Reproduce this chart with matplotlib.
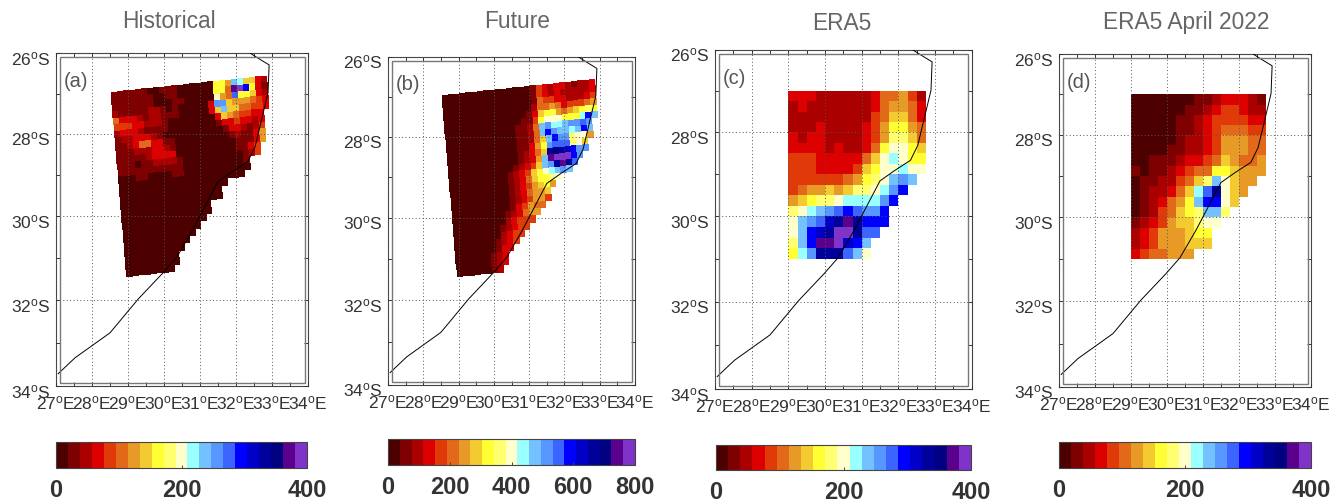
import numpy as np
import matplotlib
matplotlib.use("Agg")
import matplotlib.pyplot as plt
from matplotlib.colors import ListedColormap
from matplotlib.patches import Rectangle
from matplotlib.transforms import ScaledTranslation

plt.rcParams['font.family'] = ['Liberation Sans', 'DejaVu Sans']
plt.rcParams['mathtext.fontset'] = 'custom'
plt.rcParams['mathtext.rm'] = 'Liberation Sans'
plt.rcParams['mathtext.default'] = 'regular'

W, H = 1331, 501

colors = ['#4d0000', '#7f0000', '#ab0000', '#dc0000', '#e03a08', '#e2691a', '#e89a26',
          '#f3cb30', '#ffff33', '#ffff70', '#ffffcc', '#99ffff', '#73c2ff', '#5797ff',
          '#3c64ff', '#0000ff', '#0000c8', '#00009a', '#000080', '#5a008c', '#8033c8']

# values are colour classes (0-20), rows run north to south
hist = [
    [1,1,1,1,1,1,0,0,1,1,1,0,0,0,0,0,0,8,8,6,12,11,7,7,3,2],
    [1,1,1,1,1,1,1,0,0,1,1,0,0,0,0,0,0,8,8,5,19,20,15,8,3,1],
    [1,1,1,1,1,1,1,0,0,0,1,1,0,0,0,0,0,10,6,5,14,8,8,7,3,2],
    [2,1,1,1,1,1,2,2,1,0,1,0,0,0,0,0,3,13,13,7,6,6,6,5,4,3],
    [5,3,3,3,2,1,2,2,1,1,1,0,0,0,0,0,3,7,12,7,7,5,5,4,4,3],
    [4,4,4,3,3,2,2,2,1,0,0,0,0,0,0,0,0,3,7,6,5,4,4,3,3],
    [2,3,3,3,2,1,1,1,1,0,0,0,0,0,0,0,0,1,3,3,4,3,3,2,3],
    [1,2,2,3,3,3,2,1,0,0,0,0,0,0,0,0,0,0,1,3,3,2,1,2,4],
    [1,1,2,3,5,5,3,3,1,1,0,0,0,0,0,0,0,0,0,1,2,1,1,3,6],
    [1,1,1,2,2,2,3,3,2,1,0,0,0,0,0,0,0,0,0,0,1,1,1,3,6],
    [1,1,1,1,1,2,3,3,3,3,0,0,0,0,0,0,0,0,0,0,1,1,3,4],
    [1,1,1,0,1,1,2,2,2,2,1,0,0,0,0,0,0,0,0,0,0,1,2,4],
    [1,1,1,1,1,1,1,1,1,1,1,0,0,0,0,0,0,0,0,0,0,1],
    [0,0,0,1,1,0,0,0,0,1,1,0,0,0,0,0,0,0,0,0,0,0],
    [0,0,0,0,0,0,0,0,0,0,0,0,0,0,0,0,0,0,0,0,0],
    [0,0,0,0,0,0,0,0,0,0,0,0,0,0,0,0,0,0],
    [0,0,0,0,0,0,0,0,0,0,0,0,0,0,0,0,0],
    [0,0,0,0,0,0,0,0,0,0,0,0,0,0,0,0,0],
    [0,0,0,0,0,0,0,0,0,0,0,0,0,0,0],
    [0,0,0,0,0,0,0,0,0,0,0,0,0,0,0],
    [0,0,0,0,0,0,0,0,0,0,0,0,0,0],
    [0,0,0,0,0,0,0,0,0,0,0,0,0],
    [0,0,0,0,0,0,0,0,0,0,0,0],
    [0,0,0,0,0,0,0,0,0,0,0],
    [0,0,0,0,0,0,0,0,0,0],
    [0,0,0,0,0,0,0,0,0],
    [0,0,0,0,0,0,0,0,0],
    [0,0,0,0,0,0,0,0],
]

future = [
    [0,0,0,0,0,0,0,0,0,0,0,0,0,0,0,1,4,3,2,3,3,2,1,2,2,3],
    [0,0,0,0,0,0,0,0,0,0,0,0,0,0,0,1,4,3,2,3,2,2,2,2,2,3],
    [0,0,0,0,0,0,0,0,0,0,0,0,0,0,0,1,5,4,4,3,3,2,2,2,3,4],
    [0,0,0,0,0,0,0,0,0,0,0,0,0,0,0,2,5,5,6,5,3,4,4,4,5,6],
    [0,0,0,0,0,0,0,0,0,0,0,0,0,0,1,3,7,8,8,6,5,6,7,8,9,8],
    [0,0,0,0,0,0,0,0,0,0,0,0,0,1,1,4,8,10,10,10,8,8,8,11,15,12],
    [0,0,0,0,0,0,0,0,0,0,0,0,1,1,2,5,12,13,11,11,12,13,13,14,13],
    [0,0,0,0,0,0,0,0,0,0,0,0,1,1,2,5,12,15,13,12,12,11,12,15,12],
    [0,0,0,0,0,0,0,0,0,0,0,0,1,1,2,5,7,12,15,13,13,9,10,10,6],
    [0,0,0,0,0,0,0,0,0,0,0,0,1,1,3,6,8,13,14,14,14,9,10,7],
    [0,0,0,0,0,0,0,0,0,0,0,0,1,2,3,5,7,17,18,17,16,15,13,13],
    [0,0,0,0,0,0,0,0,0,0,0,0,1,2,3,6,12,19,20,20,20,15,13],
    [0,0,0,0,0,0,0,0,0,0,0,1,2,3,4,7,12,13,17,19,17,14],
    [0,0,0,0,0,0,0,0,0,0,1,2,3,4,7,8,10,11,12,13,12],
    [0,0,0,0,0,0,0,0,0,0,1,2,3,5,7,8,8,9,10],
    [0,0,0,0,0,0,0,0,0,0,1,2,3,4,6,7,8,6],
    [0,0,0,0,0,0,0,0,0,0,1,2,3,5,6,6,7],
    [0,0,0,0,0,0,0,0,0,0,1,2,3,4,6,6,4],
    [0,0,0,0,0,0,0,0,0,0,1,3,4,6,5,5],
    [0,0,0,0,0,0,0,0,0,1,2,3,5,6,6],
    [0,0,0,0,0,0,0,0,0,2,3,4,4,4],
    [0,0,0,0,0,0,0,0,1,2,3,4,4],
    [0,0,0,0,0,0,0,0,2,3,4,4],
    [0,0,0,0,0,0,0,1,2,3,4],
    [0,0,0,0,0,0,0,1,3,3],
    [0,0,0,0,0,0,1,2,3],
    [0,0,0,0,0,0,1,2,3],
    [0,0,0,0,0,0,1,2],
]

era5 = [
    [3,3,3,2,2,2,2,2,2,3,5,5,6,4,2],
    [2,3,2,2,2,2,2,2,2,3,5,6,6,5,3],
    [2,2,2,2,2,2,2,2,2,4,5,7,7,5,3],
    [2,2,2,3,2,2,2,2,3,4,6,8,8,6,5],
    [3,2,3,3,2,2,2,2,3,4,6,9,9,7,5],
    [3,3,3,3,2,3,2,2,3,5,8,10,10,8,7],
    [4,4,4,3,3,3,3,3,5,7,10,11,10,8,8],
    [4,4,4,3,3,3,3,4,7,8,10,10,11,10,10],
    [4,4,4,4,4,4,5,6,8,9,10,12,13,12],
    [4,5,6,6,7,6,7,9,9,10,11,13,15],
    [6,7,8,9,9,10,11,11,11,11,13,15],
    [9,10,11,12,13,14,15,14,13,13,15],
    [10,12,13,14,16,17,19,17,15,15,15],
    [10,12,15,16,17,20,20,17,14,14],
    [9,12,15,19,19,20,16,15,12],
    [8,11,13,17,17,17,14,12,10],
]

april = [
    [0,0,0,0,0,0,0,1,1,2,3,3,3,2,1],
    [0,0,0,0,0,0,1,1,2,3,4,4,3,2,2],
    [0,0,0,0,0,1,1,2,3,4,4,4,4,3,3],
    [0,0,0,0,0,1,1,2,3,4,5,5,5,4,4],
    [0,0,0,0,0,1,2,2,3,4,6,6,6,5,5],
    [0,0,0,0,1,1,2,2,3,4,6,6,6,5,5],
    [0,0,1,1,1,2,3,3,4,5,7,6,5,5,6],
    [1,0,1,1,2,3,4,5,5,8,8,7,6,6,6],
    [0,1,1,2,2,4,5,7,9,12,10,7,6,6],
    [0,1,2,2,3,5,7,11,14,17,10,7,6],
    [0,1,2,3,5,6,8,12,15,15,10,7],
    [0,1,2,4,5,7,8,9,12,12,9],
    [1,2,3,4,6,7,7,9,10,10],
    [2,3,4,6,6,6,7,8,8],
    [2,3,4,6,6,6,7,7,7],
    [3,4,5,5,6,6,6],
]

coast_lon = [27.06, 27.53, 28.5, 29.28, 29.97, 30.36, 30.8, 31.5, 31.89, 32.33, 32.53, 32.89, 32.92, 32.61, 32.4]
coast_lat = [-33.71, -33.34, -32.76, -31.97, -31.35, -30.97, -30.32, -29.16, -28.92, -28.67, -28.31, -26.98, -26.29, -26.12, -26.0]

titles = ['Historical', 'Future', 'ERA5', 'ERA5 April 2022']
letters = ['(a)', '(b)', '(c)', '(d)']
bar_ticks = [[0, 200, 400], [0, 200, 400, 600, 800], [0, 200, 400], [0, 200, 400]]
x_ticks = [27, 28, 29, 30, 31, 32, 33, 34]
y_ticks = [26, 28, 30, 32, 34]

# pixel boxes: left, top, right, bottom
map_boxes = [(56, 53.3, 308, 386.3), (388, 57, 635, 385), (715, 50, 971.7, 389.4), (1059, 54.2, 1311, 387)]
bar_boxes = [(56, 442, 307, 468), (388, 439, 635, 465), (716, 445, 971, 470), (1059, 442, 1311, 468)]
title_x = [169, 517, 842, 1186]
title_y = [22, 22, 23, 23]

cmap = ListedColormap(colors)


def merc(lat):
    return np.log(np.tan(np.pi / 4 - np.radians(lat) / 2))


def merc_inv(y):
    return -np.degrees(2 * np.arctan(np.exp(y)) - np.pi / 2)


def px_axes(fig, box):
    l, t, r, b = box
    return fig.add_axes([l / W, 1 - b / H, (r - l) / W, (b - t) / H])


def to_values(rows, vmax):
    ncol = max(len(r) for r in rows)
    out = np.full((len(rows), ncol), np.nan)
    for i, r in enumerate(rows):
        out[i, :len(r)] = (np.array(r) + 0.5) * vmax / 21
    return out


def model_edges(nrow, ncol):
    # the regional model grid is slanted
    i, j = np.meshgrid(np.arange(ncol + 1), np.arange(nrow + 1))
    lon = 28.52 + 4.33 * i / 26 + 0.44 * j / 28
    lat = -26.97 + 0.41 * i / 26 - 4.47 * j / 28
    return lon, lat


def style_map(ax, letter):
    ax.set_yscale('function', functions=(lambda v: -merc(v), lambda v: merc_inv(-v)))
    ax.set_xlim(27, 34)
    ax.set_ylim(-34, -26)
    ax.set_xticks(x_ticks)
    ax.set_xticks(np.arange(27, 34.1, 0.5), minor=True)
    ax.set_yticks([-v for v in y_ticks])
    ax.set_yticks([-27, -29, -31, -33], minor=True)
    ax.set_xticklabels([f'{v}$^{{o}}$E' for v in x_ticks])
    ax.set_yticklabels([f'{v}$^{{o}}$S' for v in y_ticks])
    ax.yaxis.set_minor_formatter(plt.NullFormatter())
    ax.tick_params(which='both', direction='in', top=True, right=True, length=3, width=0.7, color='#333333')
    ax.tick_params(axis='both', which='major', labelsize=12.5, labelcolor='#333333')
    ax.tick_params(axis='x', which='major', pad=6)
    ax.tick_params(axis='y', which='major', pad=4)
    ax.grid(True, which='major', linestyle=(0, (1, 2.5)), color='#555555', linewidth=0.7)
    ax.set_axisbelow(False)
    for lab in ax.get_yticklabels():
        lab.set_transform(lab.get_transform() + ScaledTranslation(0, -3 / 72, ax.figure.dpi_scale_trans))
    for s in ax.spines.values():
        s.set_linewidth(0.8)
        s.set_color('#444444')
    bb = ax.get_window_extent()
    dx, dy = 3.5 / bb.width, 3.5 / bb.height
    ax.add_patch(Rectangle((dx, dy), 1 - 2 * dx, 1 - 2 * dy, transform=ax.transAxes, fill=False,
                           edgecolor='#777777', linewidth=1.0, zorder=5))
    ax.text(0.03, 0.915, letter, transform=ax.transAxes, fontsize=14.5, color='#555555', va='center')


fig = plt.figure(figsize=(W / 100, H / 100), dpi=100)

fields = [hist, future, era5, april]
vmaxes = [400, 800, 400, 400]

for k in range(4):
    ax = px_axes(fig, map_boxes[k])
    z = to_values(fields[k], vmaxes[k])
    nrow, ncol = z.shape
    if k < 2:
        lon, lat = model_edges(nrow, ncol)
    else:
        lon, lat = np.meshgrid(29 + 0.25 * np.arange(ncol + 1), -27 - 0.25 * np.arange(nrow + 1))
    m = ax.pcolormesh(lon, lat, np.ma.masked_invalid(z), cmap=cmap, vmin=0, vmax=vmaxes[k], linewidth=0, zorder=1)
    ax.plot(coast_lon, coast_lat, color='black', linewidth=0.7, zorder=3)
    style_map(ax, letters[k])

    fig.text(title_x[k] / W, 1 - title_y[k] / H, titles[k], fontsize=16.4, color='#666666', ha='center', va='center')

    cax = px_axes(fig, bar_boxes[k])
    cb = fig.colorbar(m, cax=cax, orientation='horizontal', ticks=bar_ticks[k])
    cb.ax.tick_params(direction='in', length=2, width=0.7, labelsize=17, labelcolor='#333333', pad=8, color='#444444')
    for lab in cb.ax.get_xticklabels():
        lab.set_fontweight('bold')
    cb.outline.set_linewidth(0.8)
    cb.outline.set_edgecolor('#444444')

fig.savefig('out.png', dpi=100)
